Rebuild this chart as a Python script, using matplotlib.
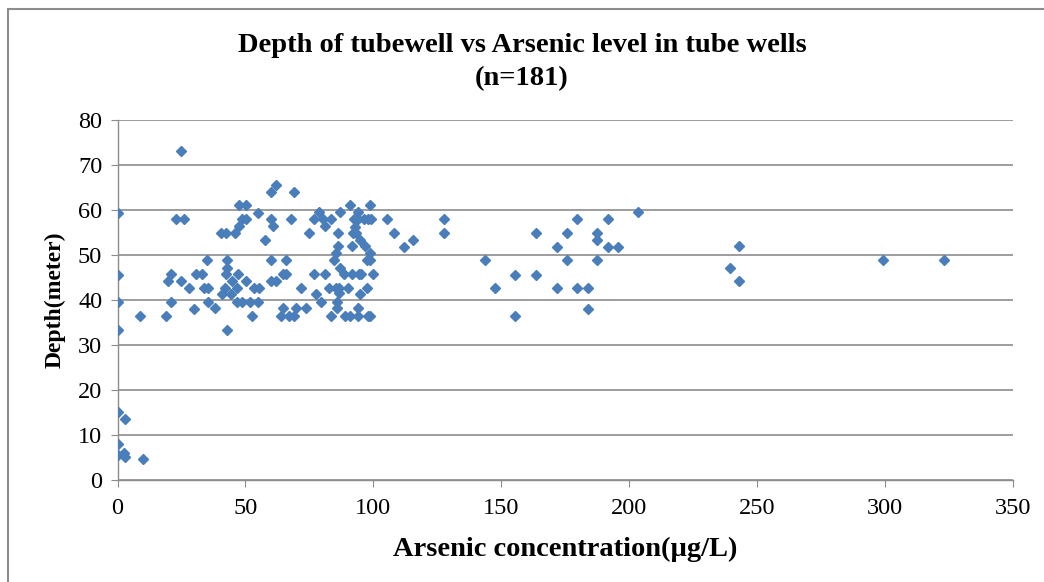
import matplotlib
matplotlib.use("Agg")
import matplotlib.pyplot as plt
from matplotlib.patches import Rectangle

# Arsenic concentration (ug/L) and tubewell depth (m)
arsenic = [
    0, 22.7, 25.9, 34.8, 0, 20.8, 19.8, 24.8, 28, 30.6,
    33.2, 33.7, 35.4, 0, 20.8, 35.4, 8.8, 18.9, 29.8, 0,
    24.8, 0, 3, 0, 0, 2.5, 3, 10,
    61.8, 59.8, 68.9, 47.5, 50.1, 54.9, 59.8, 60.8, 68, 48.5,
    50.1, 47.5, 40.6, 42.6, 45.8, 57.5, 42.9, 42.9, 42.6, 59.8,
    65.7, 47.1, 44.9, 50.1, 59.8, 61.8, 64.7, 65.7, 41.9, 46.9,
    53.3, 55.3, 41, 44.5, 71.8, 38, 46.9, 48.8, 51.7, 54.9,
    64.7, 52.7, 63.8, 67, 68.9, 69.9, 42.9,
    90.7, 98.8, 78.7, 86.8, 94, 76.7, 80.3, 83.6, 81, 92.6,
    94, 96.2, 97.9, 99.2, 105.5, 74.8, 86.2, 92, 93.3, 92.7,
    94.6, 86.2, 85.5, 91.6, 96.6, 98.5, 84.5, 97.5, 98.8, 86.8,
    76.7, 81, 88.4, 91.6, 94.3, 95.3, 99.8, 82.6, 85.5, 86.5,
    90, 86.5, 97.6, 77.7, 94.9, 79.7, 85.8, 85.8, 73.8, 83.6,
    88.8, 90.7, 94, 97.9, 98.8, 94,
    107.9, 111.8, 115.4, 127.8, 127.8, 143.8, 147.7, 155.4, 155.4, 163.6,
    163.6, 171.6, 171.6, 175.5, 175.5, 179.7, 179.7, 183.7, 183.7, 187.6,
    187.6, 187.6, 191.6, 191.6, 195.7, 203.4, 243.1, 239.2, 243.1, 299.3,
    323,
]
depth = [
    59.4, 57.9, 57.9, 48.9, 45.6, 45.7, 44.2, 44.2, 42.7, 45.7,
    45.7, 42.7, 42.7, 39.5, 39.5, 39.5, 36.5, 36.5, 38, 33.3,
    73.2, 15.2, 13.6, 7.9, 5.6, 6.0, 5.2, 4.6,
    65.6, 64.1, 64.1, 61.1, 61.1, 59.4, 57.9, 56.4, 57.9, 57.9,
    57.9, 56.4, 55, 55, 55, 53.3, 48.9, 47.2, 45.7, 48.9,
    48.9, 45.7, 44.2, 44.2, 44.2, 44.2, 45.7, 45.7, 42.7, 42.7,
    42.7, 42.7, 41.3, 41.3, 42.7, 38.2, 39.5, 39.5, 39.5, 39.5,
    38.2, 36.5, 36.5, 36.5, 36.5, 38.2, 33.3,
    61.1, 61.1, 59.6, 59.6, 59.6, 57.9, 57.9, 57.9, 56.4, 57.9,
    57.9, 57.9, 57.9, 57.9, 57.9, 55, 55, 55, 55, 56.3,
    53.3, 51.9, 50.4, 51.9, 51.9, 50.4, 48.9, 48.9, 48.9, 47.2,
    45.7, 45.7, 45.7, 45.7, 45.7, 45.7, 45.7, 42.7, 42.7, 42.7,
    42.7, 41.5, 42.7, 41.3, 41.3, 39.5, 39.5, 38.3, 38.3, 36.5,
    36.5, 36.5, 36.5, 36.5, 36.5, 38.2,
    55, 51.7, 53.3, 57.9, 55, 48.9, 42.7, 45.6, 36.5, 55,
    45.6, 51.7, 42.7, 55, 48.9, 57.9, 42.7, 42.7, 38, 55,
    53.3, 48.9, 57.9, 51.7, 51.7, 59.5, 51.9, 47.1, 44.2, 48.8,
    48.8,
]

title = "Depth of tubewell vs Arsenic level in tube wells\n(n=181)"
xlabel = "Arsenic concentration(\u00b5g/L)"
ylabel = "Depth(meter)"

plt.rcParams["font.family"] = ["Liberation Serif", "DejaVu Serif"]

fig = plt.figure(figsize=(10.44, 5.82), dpi=100)
ax = fig.add_axes([117.5 / 1044, 1 - 480 / 582, (1013 - 117.5) / 1044, 360 / 582])

ax.plot(arsenic, depth, linestyle="none", marker="D", markersize=4.8,
        color="#4a7ebb", markeredgecolor="#4a7ebb", zorder=3)

ax.set_xlim(0, 350)
ax.set_ylim(0, 80)
ax.set_xticks(range(0, 351, 50))
ax.set_yticks(range(0, 81, 10))
ax.grid(axis="y", color="#8c8c8c", linewidth=1.2)
ax.set_axisbelow(True)

for side in ["top", "right"]:
    ax.spines[side].set_visible(False)
for side in ["left", "bottom"]:
    ax.spines[side].set_color("#8c8c8c")
    ax.spines[side].set_linewidth(1.0)

ax.tick_params(axis="both", direction="out", length=5, color="#8c8c8c",
               labelsize=17.5, labelcolor="black")
ax.tick_params(axis="x", pad=8)
ax.tick_params(axis="y", pad=6)

ax.set_xlabel(xlabel, fontsize=20.5, fontweight="bold", labelpad=13)
ax.set_ylabel(ylabel, fontsize=17, fontweight="bold", labelpad=9)
fig.text(0.5, 1 - 62 / 582, title, ha="center", va="center",
         fontsize=20.5, fontweight="bold", linespacing=1.38)

# outer chart frame, Excel-style
fig.add_artist(Rectangle((8 / 1044, -0.1), 1.2, 1.1 - 9 / 582,
                         transform=fig.transFigure, fill=False,
                         edgecolor="#8c8c8c", linewidth=1.5))

fig.savefig("out.png", dpi=100)
